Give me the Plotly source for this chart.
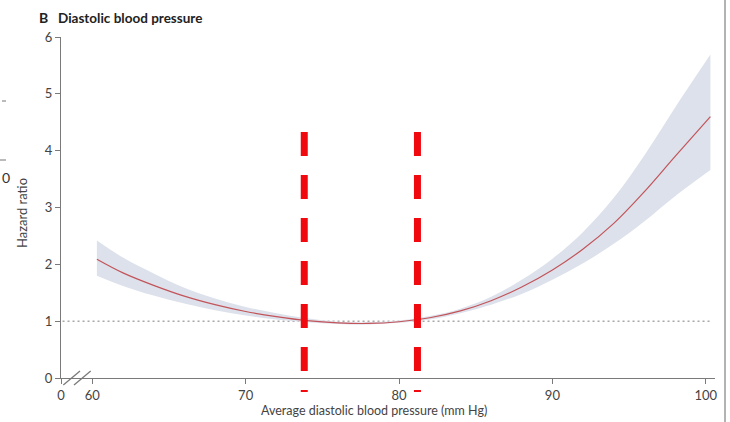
import plotly.graph_objects as go

# Average diastolic blood pressure (mm Hg) and hazard ratio with 95% CI
dbp = [60.3, 62, 64, 66, 68, 70, 72, 74, 76, 78, 80, 82, 84, 86, 88, 90, 92, 94, 96, 98, 100.3]
hr = [2.09, 1.85, 1.63, 1.44, 1.29, 1.17, 1.08, 1.01, 0.97, 0.96, 0.99, 1.06, 1.18, 1.36,
      1.60, 1.90, 2.27, 2.72, 3.28, 3.90, 4.60]
hr_lower = [1.80, 1.62, 1.45, 1.31, 1.19, 1.10, 1.03, 0.98, 0.95, 0.94, 0.97, 1.03, 1.14, 1.29,
            1.48, 1.73, 2.02, 2.36, 2.76, 3.20, 3.66]
hr_upper = [2.42, 2.12, 1.84, 1.59, 1.40, 1.25, 1.14, 1.05, 0.99, 0.98, 1.01, 1.09, 1.22, 1.43,
            1.73, 2.10, 2.57, 3.17, 3.92, 4.76, 5.69]

x_tickvals = [60, 70, 80, 90, 100]
y_tickvals = [0, 1, 2, 3, 4, 5, 6]
reference_hr = 1
marked_dbp = [73.82, 81.2]

# Layout geometry
W, H = 730, 422
ML, MR, MT, MB = 61, 15, 37, 44
X_START, X_END = 57.96, 100.6   # broken axis: origin drawn as "0"
PW, PH = W - ML - MR, H - MT - MB

FONT = "Lato"
AXIS_COLOR = "#7a7a7a"
TEXT_COLOR = "#444444"
BAND_COLOR = "#dde1eb"


def px_x(p):
    return (p - ML) / PW


def px_y(p):
    return (H - MB - p) / PH


fig = go.Figure()

fig.add_trace(go.Scatter(x=dbp, y=hr_upper, mode="lines",
                         line=dict(width=0, color=BAND_COLOR, shape="spline"),
                         showlegend=False, hoverinfo="skip"))
fig.add_trace(go.Scatter(x=dbp, y=hr_lower, mode="lines",
                         line=dict(width=0, color=BAND_COLOR, shape="spline"),
                         fill="tonexty", fillcolor=BAND_COLOR, showlegend=False, hoverinfo="skip"))
fig.add_trace(go.Scatter(x=dbp, y=hr, mode="lines",
                         line=dict(color="#c2545a", width=1.2, shape="spline"),
                         showlegend=False))

shapes = []
# Reference line at HR = 1
shapes.append(dict(type="line", xref="x", yref="y", x0=X_START + 0.1, x1=100.3,
                   y0=reference_hr, y1=reference_hr,
                   line=dict(color="#a8a8a8", width=1.5, dash="2px,3px"), layer="below"))
# Red dashed markers
for xv in marked_dbp:
    shapes.append(dict(type="line", xref="x", yref="paper", x0=xv, x1=xv,
                       y0=px_y(132), y1=px_y(392),
                       line=dict(color="#f00a10", width=7, dash="24px,19px")))
# Axis break marks
for a, b in [((63.3, 385), (80, 371)), ((74, 385), (90.7, 371))]:
    shapes.append(dict(type="line", xref="paper", yref="paper",
                       x0=px_x(a[0]), y0=px_y(a[1]), x1=px_x(b[0]), y1=px_y(b[1]),
                       line=dict(color=AXIS_COLOR, width=1.3)))
# Right border and small marks at left edge
shapes.append(dict(type="line", xref="paper", yref="paper", x0=px_x(725), x1=px_x(725),
                   y0=px_y(0), y1=px_y(422), line=dict(color="#9a9a9a", width=1.5)))
for y_p, x_a, x_b in [(101, 2, 6), (160, 0, 6)]:
    shapes.append(dict(type="line", xref="paper", yref="paper", x0=px_x(x_a), x1=px_x(x_b),
                       y0=px_y(y_p), y1=px_y(y_p), line=dict(color="#777777", width=1)))

annotations = [
    dict(text="<b>B</b>", xref="paper", yref="paper", x=px_x(37), y=px_y(17), xanchor="left",
         yanchor="middle", showarrow=False, font=dict(family=FONT, size=14, color="#222222")),
    dict(text="<b>Diastolic blood pressure</b>", xref="paper", yref="paper", x=px_x(56), y=px_y(18),
         xanchor="left", yanchor="middle", showarrow=False,
         font=dict(family=FONT, size=13.5, color="#222222")),
    dict(text="Hazard ratio", xref="paper", yref="paper", x=px_x(22), y=px_y(213), textangle=-90,
         xanchor="center", yanchor="middle", showarrow=False,
         font=dict(family=FONT, size=13, color=TEXT_COLOR)),
    dict(text="Average diastolic blood pressure (mm Hg)", xref="paper", yref="paper", x=px_x(374),
         y=px_y(411), xanchor="center", yanchor="middle", showarrow=False,
         font=dict(family=FONT, size=12.5, color=TEXT_COLOR)),
    dict(text="0", xref="paper", yref="paper", x=px_x(5.5), y=px_y(177), xanchor="center",
         yanchor="middle", showarrow=False, font=dict(family=FONT, size=14, color="#333333")),
]

fig.update_layout(
    width=W, height=H,
    margin=dict(l=ML, r=MR, t=MT, b=MB),
    paper_bgcolor="white", plot_bgcolor="white",
    shapes=shapes, annotations=annotations,
    font=dict(family=FONT, size=13, color=TEXT_COLOR),
    xaxis=dict(range=[X_START, X_END], tickmode="array",
               tickvals=[X_START] + x_tickvals, ticktext=["0"] + [str(v) for v in x_tickvals],
               showgrid=False, zeroline=False, showline=True, linecolor=AXIS_COLOR, linewidth=1.3,
               ticks="outside", ticklen=5, tickcolor=AXIS_COLOR, tickwidth=1.2,
               tickfont=dict(family=FONT, size=13, color=TEXT_COLOR)),
    yaxis=dict(range=[0, 6], tickmode="array", tickvals=y_tickvals,
               showgrid=False, zeroline=False, showline=True, linecolor=AXIS_COLOR, linewidth=1.3,
               ticks="outside", ticklen=5, tickcolor=AXIS_COLOR, tickwidth=1.2,
               tickfont=dict(family=FONT, size=13, color=TEXT_COLOR)),
)

fig.write_html("out.html")
